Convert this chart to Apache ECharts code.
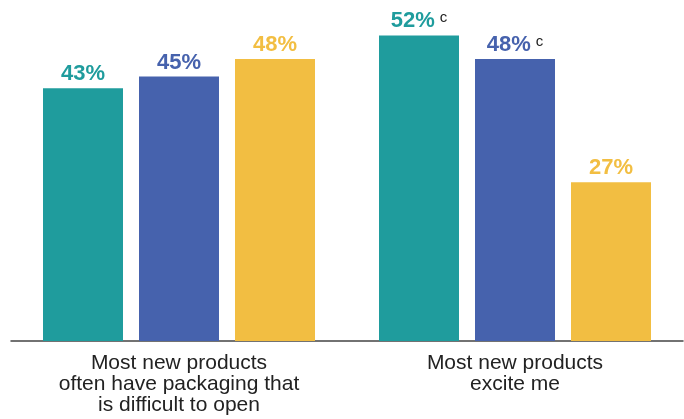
<!DOCTYPE html>
<html>
	<head>
		<meta charset="utf-8" />
		<title></title>
		<script src="https://cdn.jsdelivr.net/npm/echarts@6/dist/echarts.min.js"></script>
		<style>
			html, body { margin: 0; padding: 0; background: #fff; }
			#chart { width: 684px; height: 419px; }
		</style>
	</head>
	<body>
		<div id="chart"></div>
		<script>
			var categories = ['Most new products\noften have packaging that\nis difficult to open', 'Most new products\nexcite me'];
			var seriesNames = ['Group 1', 'Group 2', 'Group 3'];
			var colors = ['#1f9c9d', '#4662ad', '#f2be42'];
			var values = [
				[43, 52],
				[45, 48],
				[48, 27]
			];
			// superscript notes next to the labels
			var notes = [
				['', 'c'],
				['', 'c'],
				['', '']
			];

			var chart = echarts.init(document.getElementById('chart'));

			var series = values.map(function (vals, i) {
				return {
					name: seriesNames[i],
					type: 'bar',
					data: vals,
					barWidth: 80,
					barGap: '20%',
					itemStyle: { color: colors[i] },
					label: {
						show: true,
						position: 'top',
						distance: 3,
						formatter: function (p) {
							var n = notes[i][p.dataIndex];
							return '{v|' + p.value + '%}' + (n ? '{s|' + n + '}' : '');
						},
						rich: {
							v: { fontFamily: 'Liberation Sans', fontWeight: 'bold', fontSize: 22, color: colors[i] },
							s: { fontFamily: 'Liberation Sans', fontSize: 15, color: '#222', verticalAlign: 'top', padding: [0, 0, 0, 5] }
						}
					}
				};
			});

			chart.setOption({
				animation: false,
				grid: { left: 11, right: 1, top: 6, bottom: 78 },
				xAxis: {
					type: 'category',
					data: categories,
					axisTick: { show: false },
					axisLine: { lineStyle: { color: '#444', width: 1.5 } },
					axisLabel: {
						color: '#222',
						fontFamily: 'Liberation Sans',
						fontSize: 21,
						lineHeight: 21,
						margin: 12
					}
				},
				yAxis: {
					type: 'value',
					min: 0,
					max: 57,
					show: false,
					splitLine: { show: false }
				},
				series: series
			});
		</script>
	</body>
</html>
